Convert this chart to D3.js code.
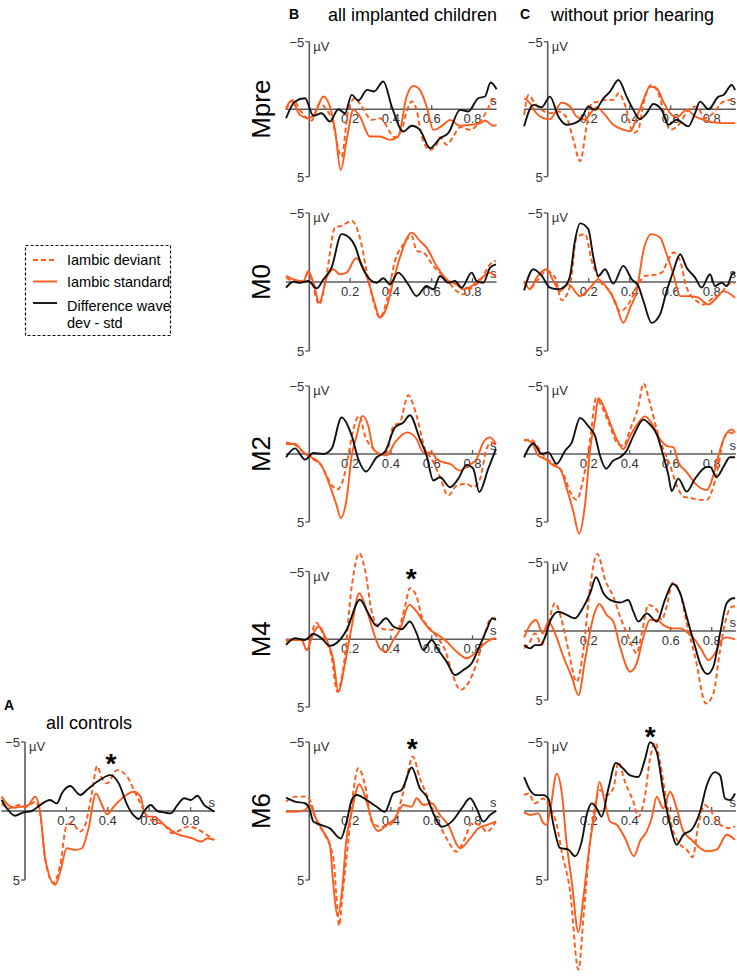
<!DOCTYPE html>
<html>
<head>
<meta charset="utf-8">
<script src="https://cdn.jsdelivr.net/npm/d3@7"></script>
<style>
  body { margin: 0; background: #fff; }
  svg { display: block; font-family: "Liberation Sans", Arial, sans-serif; }
</style>
</head>
<body>
<div id="chart"></div>
<script>
// tick values and labels
var timeTicks = [0.2, 0.4, 0.6, 0.8];
var voltTicks = [-5, 5];
var rowNames = ["Mpre", "M0", "M2", "M4", "M6"];
var legendLabels = ["Iambic deviant", "Iambic standard", "Difference wave", "dev - std"];

// waveforms, [time (s), amplitude (µV)], negative up
// ---- B: all implanted children ----
var bMpreDiff = [[-0.114,0.67],[-0.07,-0.57],[-0.021,-0.81],[0.02,0.49],[0.06,0.3],[0.101,0.91],[0.142,0],[0.175,0.3],[0.208,-1.06],[0.24,-0.64],[0.284,-1.43],[0.317,-1.31],[0.363,-2.05],[0.404,-0.2],[0.461,1.65],[0.502,1.23],[0.542,1.53],[0.592,2.89],[0.641,2.15],[0.681,1.78],[0.739,0.05],[0.779,0.17],[0.828,-0.81],[0.861,-0.94],[0.889,-1.98],[0.918,-1.48]];
var bMpreStd = [[-0.114,-0.07],[-0.087,-0.64],[-0.046,0.42],[-0.005,0.67],[0.028,0.3],[0.069,-0.94],[0.101,-0.2],[0.126,1.53],[0.154,4.49],[0.183,2.27],[0.216,0.05],[0.248,0.54],[0.297,2.02],[0.346,2.02],[0.395,2.27],[0.436,2.02],[0.477,-0.94],[0.51,-1.73],[0.542,-1.43],[0.575,-0.2],[0.608,1.53],[0.657,1.16],[0.69,0.79],[0.739,1.23],[0.788,1.16],[0.837,1.04],[0.861,0.84],[0.902,1.23],[0.918,1.16]];
var bMpreDev = [[-0.114,0.05],[-0.078,-0.69],[-0.046,0.05],[0.011,0.84],[0.052,-0.44],[0.085,0.05],[0.109,0.67],[0.158,3.51],[0.191,0.05],[0.224,-0.81],[0.257,-0.2],[0.306,0.79],[0.346,0.67],[0.42,2.07],[0.453,1.53],[0.477,0.17],[0.502,-0.57],[0.526,0.05],[0.551,2.02],[0.592,3.01],[0.624,2.64],[0.641,2.07],[0.673,2.64],[0.706,2.02],[0.739,1.33],[0.788,1.53],[0.837,0.91],[0.869,0.17],[0.902,-0.74],[0.918,-0.57]];

var bM0Diff = [[-0.114,0.41],[-0.078,-0.02],[-0.046,0.05],[-0.005,-0.07],[0.036,0.46],[0.069,-0.19],[0.109,-1.04],[0.158,-3.47],[0.199,-3.17],[0.224,-2.61],[0.257,-1.16],[0.297,-0.19],[0.33,0.05],[0.363,-0.27],[0.395,0.17],[0.436,-0.68],[0.485,0.17],[0.526,1.02],[0.575,0.29],[0.608,0.53],[0.641,-0.44],[0.681,0.05],[0.714,-0.07],[0.747,0.41],[0.796,-0.68],[0.82,-0.07],[0.853,0.05],[0.886,-1.04],[0.915,-1.28]];
var bM0Std = [[-0.114,-0.44],[-0.078,-0.19],[-0.029,-0.07],[-0.005,-0.8],[0.02,0.05],[0.049,1.5],[0.085,-0.31],[0.118,-0.92],[0.15,-0.56],[0.183,-0.68],[0.229,-1.72],[0.265,-1.04],[0.289,-0.07],[0.322,1.62],[0.346,2.59],[0.379,1.86],[0.412,-0.07],[0.444,-1.77],[0.502,-3.58],[0.542,-2.98],[0.575,-2.49],[0.624,-1.16],[0.673,-0.19],[0.722,0.17],[0.755,0.53],[0.796,0.29],[0.845,-0.31],[0.886,-0.68],[0.915,-0.31]];
var bM0Dev = [[-0.114,-0.31],[-0.078,-0.07],[-0.029,-0.02],[-0.005,-0.68],[0.049,1.62],[0.085,-0.56],[0.126,-3.95],[0.158,-4.07],[0.208,-4.43],[0.248,-3.22],[0.281,-0.8],[0.314,1.38],[0.346,2.59],[0.379,1.38],[0.42,-1.53],[0.461,-2.74],[0.502,-3.34],[0.526,-2.25],[0.559,-2.13],[0.608,-1.16],[0.673,-0.19],[0.722,0.65],[0.755,0.9],[0.796,0.41],[0.837,-0.07],[0.886,-1.28],[0.915,-1.53]];

var bM2Diff = [[-0.114,0.24],[-0.07,-0.41],[-0.021,0.41],[0.02,-0.07],[0.069,0],[0.109,-0.37],[0.158,-2.68],[0.208,-1.34],[0.24,0.37],[0.278,1.29],[0.33,0.24],[0.371,-0.17],[0.42,-1.95],[0.461,-2.32],[0.493,-2.85],[0.542,-1.1],[0.575,0.12],[0.608,1.95],[0.641,1.71],[0.69,2.44],[0.73,1.83],[0.771,0.8],[0.804,1.1],[0.833,2.8],[0.877,1.1],[0.915,-0.37]];
var bM2Std = [[-0.114,-0.73],[-0.07,-0.73],[-0.029,-0.12],[0.011,0.24],[0.06,0.85],[0.101,2.32],[0.134,3.78],[0.154,4.71],[0.183,3.29],[0.208,0.12],[0.232,-1.34],[0.261,-2.8],[0.289,-2.07],[0.314,-0.37],[0.346,0],[0.379,0.12],[0.42,-0.85],[0.48,-1.59],[0.526,-1.1],[0.559,-0.12],[0.6,-0.12],[0.624,0.37],[0.657,0.61],[0.69,0.73],[0.739,1.22],[0.779,0.85],[0.82,0.37],[0.853,-0.85],[0.886,-1.22],[0.915,-0.73]];
var bM2Dev = [[-0.114,-0.85],[-0.07,-0.66],[-0.029,-0.12],[0.02,0.41],[0.06,0.85],[0.101,2.07],[0.137,2.61],[0.167,1.83],[0.191,0.12],[0.216,-1.83],[0.245,-2.8],[0.273,-1.34],[0.314,-0.37],[0.346,0],[0.379,-0.12],[0.412,-2.07],[0.444,-2.32],[0.485,-4.32],[0.526,-2.8],[0.567,-0.37],[0.6,0.37],[0.641,1.71],[0.681,3.05],[0.722,2.32],[0.771,2.2],[0.804,2.44],[0.837,1.83],[0.869,-0.37],[0.894,-0.85],[0.915,-0.61]];

var bM4Diff = [[-0.114,0.42],[-0.07,-0.07],[-0.021,0.05],[0.02,-0.39],[0.06,-0.07],[0.101,0.49],[0.142,0.17],[0.183,-0.69],[0.248,-2.91],[0.289,-1.92],[0.33,-0.99],[0.376,-1.55],[0.412,-0.94],[0.453,-0.74],[0.493,-1.31],[0.526,-0.44],[0.559,0.79],[0.6,0.05],[0.632,0.79],[0.673,1.65],[0.714,2.64],[0.755,2.27],[0.796,1.77],[0.837,0.42],[0.869,-0.69],[0.897,-1.55],[0.915,-1.43]];
var bM4Std = [[-0.114,0.05],[-0.078,0.05],[-0.038,0.05],[-0.013,0.79],[0.02,-0.44],[0.044,-0.94],[0.085,0.05],[0.118,1.53],[0.142,3.87],[0.175,1.77],[0.208,-0.94],[0.245,-3.4],[0.281,-2.17],[0.322,-0.2],[0.346,0.67],[0.376,0.91],[0.412,0.05],[0.444,-0.69],[0.49,-2.54],[0.526,-2.04],[0.559,-1.31],[0.592,-0.69],[0.632,-0.32],[0.673,0.17],[0.722,0.91],[0.771,1.4],[0.82,0.91],[0.861,0.3],[0.886,0.05],[0.915,-0.07]];
var bM4Dev = [[-0.114,0.17],[-0.078,0.05],[-0.038,0.05],[-0.013,0.79],[0.033,-1.23],[0.077,0],[0.109,1.28],[0.137,3.87],[0.17,1.77],[0.208,-3.89],[0.245,-6.35],[0.273,-5.12],[0.306,-2.04],[0.346,-0.81],[0.395,-0.69],[0.436,-0.81],[0.469,-2.41],[0.493,-3.77],[0.526,-3.15],[0.551,-1.67],[0.583,-0.94],[0.624,-0.2],[0.665,0.79],[0.706,2.76],[0.739,3.74],[0.779,3.25],[0.82,1.77],[0.853,0.05],[0.886,-1.43],[0.915,-1.55]];

var bM6Diff = [[-0.114,-0.97],[-0.07,-0.68],[-0.021,-0.56],[0,-0.19],[0.02,0.77],[0.06,1.02],[0.101,1.26],[0.154,1.99],[0.183,0.77],[0.208,-0.8],[0.232,-1.16],[0.281,-0.8],[0.33,-0.31],[0.371,0.05],[0.412,-1.28],[0.453,-1.53],[0.502,-3.15],[0.542,-1.65],[0.575,-1.04],[0.608,0.17],[0.649,1.14],[0.698,0.77],[0.747,-0.19],[0.788,-0.92],[0.82,-0.19],[0.853,0.77],[0.886,0.29],[0.915,0]];
var bM6Std = [[-0.114,0.05],[-0.07,0.05],[-0.021,-0.07],[0.003,-0.44],[0.028,0.41],[0.069,1.5],[0.101,2.47],[0.118,5.4],[0.138,7.6],[0.163,5.4],[0.18,2.3],[0.208,0.05],[0.245,-1.94],[0.281,-0.68],[0.314,1.02],[0.338,1.45],[0.379,1.02],[0.42,0.53],[0.461,-0.44],[0.502,-0.31],[0.526,-0.92],[0.559,-0.44],[0.6,-0.56],[0.641,0.29],[0.681,1.02],[0.739,2.71],[0.788,1.99],[0.828,1.26],[0.869,1.02],[0.915,0.77]];
var bM6Dev = [[-0.114,-0.68],[-0.07,-1.04],[-0.021,-1.04],[0.003,-0.8],[0.036,0.77],[0.077,1.74],[0.118,3.44],[0.132,6],[0.146,8.3],[0.163,6],[0.191,2.23],[0.216,-1.4],[0.24,-3.1],[0.273,-1.89],[0.306,0.77],[0.346,1.14],[0.395,1.02],[0.444,-0.44],[0.477,-2.37],[0.507,-3.95],[0.542,-2.37],[0.583,-0.92],[0.624,0.53],[0.673,1.99],[0.722,2.95],[0.763,1.99],[0.796,0.9],[0.837,1.02],[0.869,1.5],[0.915,0.77]];

// ---- C: without prior hearing ----
var cMpreDiff = [[-0.115,1.27],[-0.07,-0.32],[-0.029,-0.15],[0.011,-0.93],[0.052,0.54],[0.093,1.15],[0.133,1.03],[0.166,0.66],[0.198,-0.2],[0.231,0.05],[0.272,-0.81],[0.304,-1.3],[0.345,-2.16],[0.385,-0.93],[0.418,0.05],[0.45,0.74],[0.483,0.29],[0.515,-0.39],[0.556,0.05],[0.589,1.15],[0.629,0.78],[0.686,1.27],[0.719,0.29],[0.743,-0.56],[0.784,0],[0.833,-0.93],[0.857,-1.05],[0.898,-1.79],[0.914,-1.42]];
var cMpreStd = [[-0.115,-0.81],[-0.086,-0.44],[-0.062,0.17],[-0.021,0.66],[0.011,0.74],[0.068,-0.49],[0.109,-0.2],[0.141,0.54],[0.182,0.78],[0.215,0.17],[0.239,-0.15],[0.272,0.29],[0.32,1.15],[0.369,1.52],[0.402,1.64],[0.442,0.29],[0.467,-0.69],[0.499,-1.67],[0.532,-1.54],[0.564,-0.56],[0.597,0.29],[0.629,0.59],[0.678,0.05],[0.719,0.54],[0.759,0.78],[0.808,0.98],[0.857,1.03],[0.914,1.03]];
var cMpreDev = [[-0.115,0.42],[-0.094,-1.05],[-0.062,-0.44],[-0.029,0.05],[0.011,0.29],[0.052,0.17],[0.093,0.66],[0.125,2.25],[0.158,3.85],[0.19,1.27],[0.215,-0.44],[0.247,-0.56],[0.288,-0.69],[0.32,-0.69],[0.345,-1.18],[0.377,-0.32],[0.418,1.76],[0.442,1.52],[0.467,-0.44],[0.507,-1.79],[0.54,-1.18],[0.572,0.54],[0.597,1.52],[0.646,1.03],[0.686,0.05],[0.727,-0.2],[0.767,0.66],[0.808,0.29],[0.857,-0.56],[0.898,-0.69],[0.914,-0.56]];

var cM0Diff = [[-0.115,0.61],[-0.07,-0.92],[-0.029,-0.44],[0.011,0.41],[0.052,0.53],[0.085,0.29],[0.109,-0.44],[0.133,-2.99],[0.158,-4.25],[0.198,-3.83],[0.223,-1.77],[0.247,-0.44],[0.28,-0.92],[0.32,0.12],[0.369,-1.17],[0.41,-0.19],[0.442,0.29],[0.467,1.38],[0.507,2.96],[0.548,2.35],[0.58,0.66],[0.613,-0.8],[0.646,-2.01],[0.678,-1.04],[0.719,-0.32],[0.751,0.41],[0.792,-0.56],[0.816,0.29],[0.849,0.05],[0.873,0.29],[0.906,-0.68],[0.914,-0.6]];
var cM0Std = [[-0.115,-0.07],[-0.086,0.53],[-0.054,-0.32],[-0.005,-0.92],[0.028,-0.07],[0.06,0.66],[0.101,0.17],[0.158,1.02],[0.207,0.41],[0.247,-0.19],[0.288,0.41],[0.328,1.38],[0.369,2.96],[0.402,1.87],[0.434,0.66],[0.467,-2.26],[0.507,-3.47],[0.548,-3.23],[0.58,-2.01],[0.613,-0.56],[0.646,1.02],[0.694,1.02],[0.735,1.14],[0.784,1.63],[0.824,1.14],[0.857,0.66],[0.914,1.14]];
var cM0Dev = [[-0.115,0.05],[-0.086,0.41],[-0.046,-0.19],[-0.005,-0.8],[0.036,-0.32],[0.068,1.33],[0.109,0.29],[0.141,-3.23],[0.182,-3.47],[0.215,-1.53],[0.255,-0.07],[0.304,0.66],[0.353,2.11],[0.393,1.63],[0.434,0.41],[0.475,-0.44],[0.515,-0.51],[0.556,-0.68],[0.589,-1.65],[0.613,-2.14],[0.646,-1.53],[0.678,0.41],[0.727,1.38],[0.759,1.63],[0.808,1.14],[0.841,0.9],[0.873,0.29],[0.906,0.05],[0.914,0.1]];

var cM2Diff = [[-0.115,0.24],[-0.07,-0.77],[-0.029,0],[0.003,-0.12],[0.044,0.72],[0.085,-0.24],[0.117,-0.84],[0.158,-2.65],[0.198,-2.05],[0.231,-1.33],[0.255,0.12],[0.285,1.08],[0.32,0.48],[0.353,0.24],[0.385,-0.24],[0.418,-1.33],[0.467,-2.53],[0.499,-2.17],[0.532,-1.45],[0.564,0.12],[0.589,1.57],[0.605,2.72],[0.637,1.81],[0.678,2.77],[0.719,1.81],[0.776,0.96],[0.792,0.96],[0.824,1.69],[0.857,0.96],[0.889,0.24],[0.914,0.24]];
var cM2Std = [[-0.115,-1.08],[-0.078,-0.84],[-0.046,0.12],[-0.013,0.36],[0.028,0.84],[0.06,1.08],[0.093,2.53],[0.125,4.22],[0.153,5.86],[0.182,3.73],[0.207,-0.36],[0.231,-2.53],[0.247,-4.1],[0.28,-3.25],[0.304,-2.29],[0.345,-0.84],[0.369,-0.36],[0.402,-1.33],[0.442,-2.29],[0.475,-2.77],[0.515,-2.05],[0.548,-1.08],[0.58,-0.6],[0.613,-0.48],[0.637,0.6],[0.678,1.33],[0.727,2.29],[0.776,2.65],[0.808,1.57],[0.833,0.12],[0.865,-1.33],[0.898,-1.81],[0.914,-1.57]];
var cM2Dev = [[-0.115,-0.96],[-0.086,-1.08],[-0.046,-0.48],[-0.013,0.24],[0.028,0.72],[0.076,1.45],[0.109,2.77],[0.141,3.37],[0.174,1.81],[0.207,-1.08],[0.236,-4.1],[0.263,-3.49],[0.304,-2.05],[0.337,-0.84],[0.369,-0.6],[0.402,-1.81],[0.442,-3.49],[0.467,-5.18],[0.499,-3.73],[0.532,-1.81],[0.564,-0.36],[0.597,0.84],[0.629,2.29],[0.662,3.13],[0.702,3.25],[0.735,3.37],[0.776,3.37],[0.8,2.77],[0.833,0.84],[0.857,-1.08],[0.889,-1.57],[0.914,-1.45]];

var cM4Diff = [[-0.115,1.02],[-0.086,1.26],[-0.062,1.02],[-0.037,1.02],[-0.013,0.46],[0.011,-0.68],[0.052,-1.4],[0.093,-1.16],[0.133,-0.92],[0.166,-1.53],[0.207,-2.74],[0.236,-3.9],[0.272,-2.74],[0.304,-2.25],[0.353,-2.06],[0.393,-2.25],[0.418,-1.4],[0.442,-0.68],[0.483,-1.28],[0.532,-0.68],[0.572,-2.25],[0.61,-3.41],[0.646,-2.74],[0.678,-1.04],[0.719,1.14],[0.743,2.35],[0.779,3.12],[0.808,2.59],[0.841,0.17],[0.873,-2.01],[0.906,-2.37],[0.914,-2.37]];
var cM4Std = [[-0.115,0.46],[-0.086,-0.44],[-0.057,-0.8],[-0.024,0.17],[0.003,-0.68],[0.036,0.17],[0.076,1.86],[0.117,3.32],[0.15,4.65],[0.182,2.11],[0.223,-1.04],[0.252,-1.96],[0.288,-1.16],[0.32,-0.68],[0.353,1.14],[0.402,2.95],[0.434,2.35],[0.467,0.41],[0.499,-0.8],[0.532,-0.8],[0.564,-0.44],[0.605,-0.19],[0.646,-0.19],[0.686,0.17],[0.719,0.65],[0.751,1.38],[0.784,2.11],[0.816,1.62],[0.849,0.65],[0.873,0.46],[0.914,0.61]];
var cM4Dev = [[-0.115,1.26],[-0.086,0.77],[-0.062,0.17],[-0.029,1.02],[0.003,-0.56],[0.036,-2.01],[0.068,-0.8],[0.101,1.38],[0.141,3.68],[0.174,1.38],[0.207,-3.22],[0.242,-5.59],[0.28,-3.7],[0.32,-2.49],[0.353,-1.04],[0.393,0.41],[0.434,1.62],[0.459,0.17],[0.491,-1.89],[0.532,-1.53],[0.556,-0.8],[0.58,-1.77],[0.61,-3.51],[0.646,-2.74],[0.678,-0.56],[0.719,1.86],[0.772,5.25],[0.808,4.53],[0.841,1.38],[0.873,-1.04],[0.902,-1.77],[0.914,-1.77]];

var cM6Diff = [[-0.115,-2.46],[-0.086,-1.51],[-0.054,-1.15],[-0.021,-1.15],[0.003,-0.91],[0.028,1],[0.06,2.68],[0.101,2.8],[0.133,3.28],[0.166,2.2],[0.19,0.29],[0.215,-0.55],[0.239,-0.19],[0.263,0.41],[0.296,-1.63],[0.333,-3.49],[0.369,-3.06],[0.402,-2.58],[0.442,-2.46],[0.475,-3.78],[0.499,-4.98],[0.532,-4.26],[0.564,-1.39],[0.597,1],[0.629,2.44],[0.662,1.72],[0.702,1.36],[0.743,0.05],[0.776,-1.87],[0.816,-2.82],[0.841,-2.58],[0.865,-0.91],[0.889,-0.79],[0.914,-1.27]];
var cM6Std = [[-0.115,0.1],[-0.086,0.29],[-0.046,0.17],[-0.021,0.89],[-0.005,1],[0.011,0.05],[0.044,-2.7],[0.068,-1.39],[0.093,2.44],[0.117,5.07],[0.15,8.78],[0.174,6.27],[0.207,2.2],[0.231,0.05],[0.252,-2.11],[0.28,-0.55],[0.304,0.77],[0.337,1],[0.377,1.96],[0.421,3.28],[0.45,2.2],[0.483,1.48],[0.507,0.53],[0.532,-1.03],[0.564,-0.19],[0.597,-1.39],[0.629,-0.19],[0.662,1.48],[0.702,2.08],[0.743,2.68],[0.776,2.92],[0.824,2.8],[0.873,1.72],[0.914,2.08]];
var cM6Dev = [[-0.115,-1.15],[-0.094,-1.27],[-0.062,-0.55],[-0.021,-0.91],[0.003,-0.43],[0.044,1],[0.068,2.92],[0.109,5.79],[0.15,11.5],[0.177,7.22],[0.207,2.2],[0.231,-0.43],[0.255,-1.51],[0.288,-1.15],[0.32,-1.63],[0.345,-3.54],[0.377,-2.11],[0.418,-0.67],[0.442,0.41],[0.475,-1.15],[0.499,-3.78],[0.524,-4.98],[0.548,-3.54],[0.58,-0.67],[0.613,1.48],[0.646,2.44],[0.678,2.8],[0.707,3.35],[0.735,1],[0.767,-0.43],[0.792,-0.07],[0.841,1],[0.889,1.24],[0.914,1.12]];

// ---- A: all controls ----
var aDiff = [[-0.113,-0.8],[-0.081,-0.07],[-0.049,0.34],[-0.008,0.1],[0.032,0],[0.073,-0.43],[0.121,-0.8],[0.154,-0.55],[0.178,-1.28],[0.218,-1.81],[0.267,-1.16],[0.299,-1.52],[0.348,-2.12],[0.413,-2.6],[0.453,-2],[0.494,-0.43],[0.526,0.34],[0.55,0.58],[0.574,0.05],[0.607,-0.43],[0.639,0],[0.672,0.1],[0.704,0.17],[0.736,-0.43],[0.769,-0.92],[0.801,-0.8],[0.833,-1.11],[0.866,-0.43],[0.89,-0.19],[0.914,0.05]];
var aStd = [[-0.113,-1.04],[-0.081,-0.43],[-0.049,-0.24],[-0.016,-0.31],[0.016,-0.43],[0.049,-1.04],[0.073,0.05],[0.097,3.42],[0.146,5.35],[0.17,4.39],[0.202,2.7],[0.243,2.82],[0.275,2.7],[0.307,1.25],[0.343,-1.28],[0.372,-0.43],[0.396,0.24],[0.429,-0.31],[0.477,-1.04],[0.526,-1.4],[0.558,-1.04],[0.574,-0.07],[0.591,0.41],[0.623,0.41],[0.647,0.65],[0.672,1.01],[0.704,1.37],[0.744,1.73],[0.777,1.86],[0.809,1.98],[0.85,2.22],[0.882,1.98],[0.914,2.1]];
var aDev = [[-0.113,-0.55],[-0.081,-0.19],[-0.024,-0.43],[0.008,-0.31],[0.049,-0.67],[0.073,0.17],[0.097,3.42],[0.138,5.23],[0.17,3.9],[0.202,1.01],[0.227,0.89],[0.267,1.49],[0.291,1.01],[0.324,-1.4],[0.348,-3.25],[0.372,-2.36],[0.396,-2],[0.445,-2.96],[0.494,-2.48],[0.526,-1.52],[0.558,-0.55],[0.591,0.41],[0.623,0.77],[0.672,1.01],[0.712,1.61],[0.752,1.37],[0.785,1.13],[0.825,1.25],[0.866,1.61],[0.914,2.1]];

// significance markers [time, µV]
var bM4Star = [0.50, -5.0];
var bM6Star = [0.505, -5.0];
var cM6Star = [0.50, -5.9];
var aStar = [0.415, -3.9];

// layout
var width = 737, height = 977;
var orange = "#ff5a1a";
var axisColor = "#5a5a5a";
var tStart = -0.115, tEnd = 0.918;

var svg = d3.select("#chart").append("svg")
  .attr("width", width)
  .attr("height", height);

// panel placement: zero-time x, px per second, y of -5 and +5
var colB = {x0: 309.3, pps: 204};
var colC = {x0: 547.7, pps: 205};
var colA = {x0: 25, pps: 207};
var rowY = [[41.7, 176.7], [213, 351], [386, 522], [571.5, 707], [742, 880]];

var panels = [
  {col: colB, y: rowY[0], dev: bMpreDev, std: bMpreStd, diff: bMpreDiff},
  {col: colB, y: rowY[1], dev: bM0Dev, std: bM0Std, diff: bM0Diff},
  {col: colB, y: rowY[2], dev: bM2Dev, std: bM2Std, diff: bM2Diff},
  {col: colB, y: rowY[3], dev: bM4Dev, std: bM4Std, diff: bM4Diff, star: bM4Star},
  {col: colB, y: rowY[4], dev: bM6Dev, std: bM6Std, diff: bM6Diff, star: bM6Star},
  {col: colC, y: rowY[0], dev: cMpreDev, std: cMpreStd, diff: cMpreDiff},
  {col: colC, y: rowY[1], dev: cM0Dev, std: cM0Std, diff: cM0Diff},
  {col: colC, y: rowY[2], dev: cM2Dev, std: cM2Std, diff: cM2Diff},
  {col: colC, y: [562, 700], dev: cM4Dev, std: cM4Std, diff: cM4Diff},
  {col: colC, y: rowY[4], dev: cM6Dev, std: cM6Std, diff: cM6Diff, star: cM6Star},
  {col: colA, y: [742, 880], dev: aDev, std: aStd, diff: aDiff, star: aStar}
];

panels.forEach(function(p) {
  var x = d3.scaleLinear().domain([0, 1]).range([p.col.x0, p.col.x0 + p.col.pps]);
  var y = d3.scaleLinear().domain([-5, 5]).range([p.y[0], p.y[1]]);
  var g = svg.append("g");
  var y0 = y(0);

  // time axis
  g.append("line")
    .attr("x1", x(tStart)).attr("x2", x(tEnd))
    .attr("y1", y0).attr("y2", y0)
    .attr("stroke", axisColor).attr("stroke-width", 1.6);
  g.selectAll(".tt").data(timeTicks).enter().append("line")
    .attr("x1", d => x(d)).attr("x2", d => x(d))
    .attr("y1", y0).attr("y2", y0 - 4)
    .attr("stroke", axisColor).attr("stroke-width", 1.3);
  g.selectAll(".tl").data(timeTicks).enter().append("text")
    .attr("x", d => x(d)).attr("y", y0 + 14)
    .attr("text-anchor", "middle")
    .attr("font-size", 13).attr("fill", "#333")
    .text(d => d3.format(".1f")(d));
  g.append("text")
    .attr("x", x(tEnd)).attr("y", y0 - 4)
    .attr("text-anchor", "end")
    .attr("font-size", 13).attr("fill", "#333")
    .text("s");

  // voltage axis
  g.append("line")
    .attr("x1", x(0)).attr("x2", x(0))
    .attr("y1", y(-5)).attr("y2", y(5))
    .attr("stroke", axisColor).attr("stroke-width", 1.6);
  g.selectAll(".vt").data(voltTicks).enter().append("line")
    .attr("x1", x(0) - 4).attr("x2", x(0))
    .attr("y1", d => y(d)).attr("y2", d => y(d))
    .attr("stroke", axisColor).attr("stroke-width", 1.3);
  g.selectAll(".vl").data(voltTicks).enter().append("text")
    .attr("x", x(0) - 5).attr("y", d => y(d) + 5)
    .attr("text-anchor", "end")
    .attr("font-size", 13).attr("fill", "#333")
    .text(d => d < 0 ? "\u2212" + Math.abs(d) : d);
  g.append("text")
    .attr("x", x(0) + 4).attr("y", y(-5) + 9)
    .attr("font-size", 13).attr("fill", "#333")
    .text("\u00b5V");

  var line = d3.line()
    .x(d => x(d[0]))
    .y(d => y(d[1]))
    .curve(d3.curveMonotoneX);

  g.append("path").datum(p.dev)
    .attr("d", line).attr("fill", "none")
    .attr("stroke", orange).attr("stroke-width", 1.9)
    .attr("stroke-dasharray", "5,3");
  g.append("path").datum(p.std)
    .attr("d", line).attr("fill", "none")
    .attr("stroke", orange).attr("stroke-width", 1.9);
  g.append("path").datum(p.diff)
    .attr("d", line).attr("fill", "none")
    .attr("stroke", "#111").attr("stroke-width", 1.9);

  if (p.star) {
    g.append("text")
      .attr("x", x(p.star[0])).attr("y", y(p.star[1]) + 16)
      .attr("text-anchor", "middle")
      .attr("font-size", 28).attr("font-weight", "bold")
      .text("*");
  }
});

// row labels
var rowCenters = rowY.map(r => (r[0] + r[1]) / 2);
svg.selectAll(".row").data(rowNames).enter().append("text")
  .attr("transform", (d, i) => `translate(270, ${rowCenters[i]}) rotate(-90)`)
  .attr("text-anchor", "middle")
  .attr("font-size", 26)
  .text(d => d);

// column headers
function header(letter, lx, ly, title, tx, ty, anchor) {
  svg.append("text").attr("x", lx).attr("y", ly)
    .attr("font-size", 14).attr("font-weight", "bold").text(letter);
  svg.append("text").attr("x", tx).attr("y", ty)
    .attr("text-anchor", anchor)
    .attr("font-size", 18).text(title);
}
header("B", 289, 19, "all implanted children", 328, 21, "start");
header("C", 520, 19, "without prior hearing", 551, 21, "start");
header("A", 4, 710, "all controls", 89, 729, "middle");

// legend
var lg = svg.append("g");
lg.append("rect")
  .attr("x", 25.5).attr("y", 245.5)
  .attr("width", 145).attr("height", 90)
  .attr("fill", "none").attr("stroke", "#111")
  .attr("stroke-width", 1.2).attr("stroke-dasharray", "3,2");
var legendStyles = [
  {color: orange, dash: "5,3", y: 260},
  {color: orange, dash: null, y: 281.5},
  {color: "#111", dash: null, y: 303}
];
legendStyles.forEach(function(s) {
  lg.append("line")
    .attr("x1", 33).attr("x2", 57)
    .attr("y1", s.y).attr("y2", s.y)
    .attr("stroke", s.color).attr("stroke-width", 1.9)
    .attr("stroke-dasharray", s.dash);
});
var legendTextY = [265, 287, 311, 328];
lg.selectAll(".lt").data(legendLabels).enter().append("text")
  .attr("x", 67).attr("y", (d, i) => legendTextY[i])
  .attr("font-size", 14.5)
  .text(d => d);
</script>
</body>
</html>
